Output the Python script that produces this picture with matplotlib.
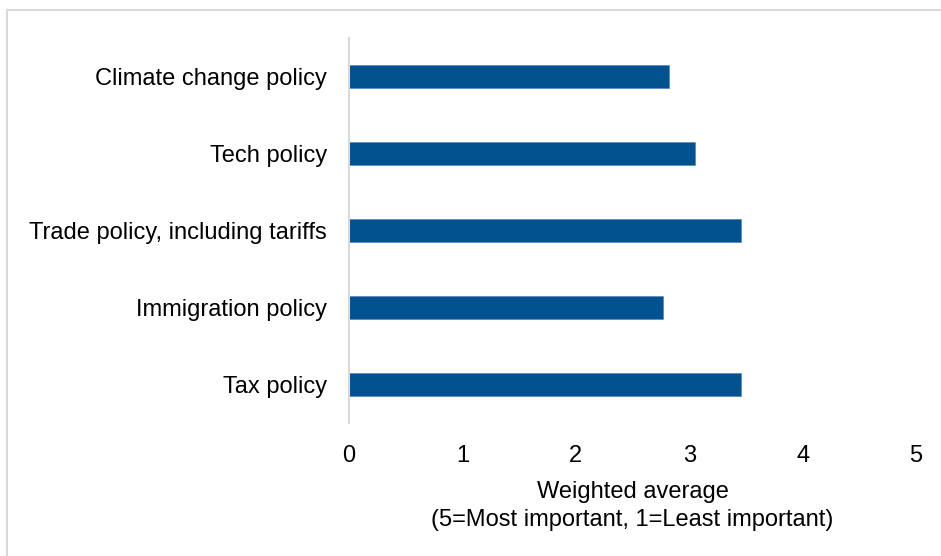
import matplotlib.pyplot as plt
from matplotlib.lines import Line2D

plt.rcParams["font.family"] = ["Liberation Sans", "DejaVu Sans"]

categories = ["Tax policy", "Immigration policy", "Trade policy, including tariffs",
              "Tech policy", "Climate change policy"]
values = [3.46, 2.77, 3.46, 3.05, 2.82]
xticks = [0, 1, 2, 3, 4, 5]
xlabel = "Weighted average\n(5=Most important, 1=Least important)"

W, H = 941, 556
fig = plt.figure(figsize=(W / 100, H / 100), dpi=100)
ax = fig.add_axes([349 / W, 1 - 423 / H, (916 - 349) / W, (423 - 38) / H])

ax.barh(range(len(categories)), values, height=0.31, color="#02528F",
        edgecolor="#4A7FB5", linewidth=0.4, zorder=2)
ax.set_ylim(-0.5, len(categories) - 0.5)
ax.set_xlim(0, 5)
ax.set_xticks(xticks)
ax.set_yticks(range(len(categories)))
ax.set_yticklabels(categories)
ax.tick_params(axis="both", length=0, labelsize=17, colors="black")
ax.tick_params(axis="x", pad=15.5)
ax.tick_params(axis="y", pad=16)
ax.set_xlabel(xlabel, fontsize=17, labelpad=10.5, linespacing=1.35)

for s in ["top", "right", "bottom"]:
    ax.spines[s].set_visible(False)
ax.spines["left"].set_color("#D9D9D9")
ax.spines["left"].set_linewidth(1.5)
ax.spines["left"].set_zorder(3)

# outer border
fig.add_artist(Line2D([6.5 / W, 6.5 / W], [0, 1 - 9.5 / H], transform=fig.transFigure,
                      color="#D9D9D9", lw=1.5))
fig.add_artist(Line2D([6.5 / W, 1], [1 - 9.5 / H, 1 - 9.5 / H], transform=fig.transFigure,
                      color="#D9D9D9", lw=1.5))

fig.savefig("out.png", dpi=100)
